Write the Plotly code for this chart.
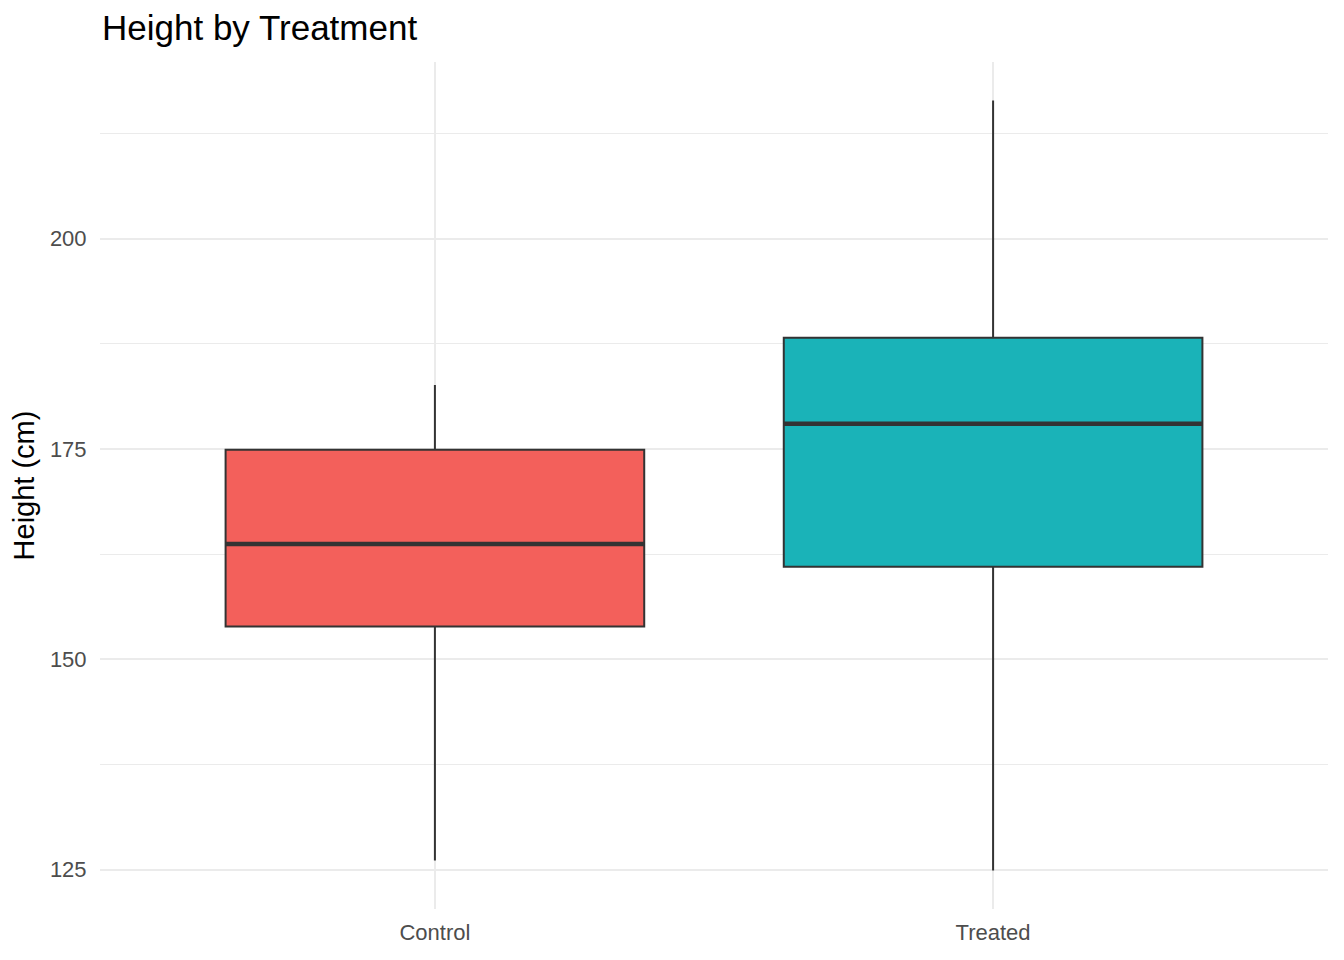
import plotly.graph_objects as go

categories = ["Control", "Treated"]
lower_whisker = [126.1, 124.9]
q1 = [153.9, 161.0]
median = [163.7, 178.0]
q3 = [174.9, 188.2]
upper_whisker = [182.6, 216.4]
fills = ["#F3605B", "#1AB3B8"]

ytick_vals = [125, 150, 175, 200]
yminor_vals = [137.5, 162.5, 187.5, 212.5]

box_w = 0.75
fig = go.Figure()
for i, cat in enumerate(categories):
    xpos = i + 1
    fig.add_trace(go.Box(
        x=[xpos], q1=[q1[i]], median=[median[i]], q3=[q3[i]],
        lowerfence=[lower_whisker[i]], upperfence=[upper_whisker[i]],
        width=box_w, whiskerwidth=0, fillcolor=fills[i],
        line=dict(color="#333333", width=2), name=cat,
        showlegend=False, hoverinfo="skip", boxpoints=False,
    ))
    fig.add_trace(go.Scatter(
        x=[xpos - box_w / 2, xpos + box_w / 2], y=[median[i], median[i]],
        mode="lines", line=dict(color="#333333", width=4.5),
        showlegend=False, hoverinfo="skip",
    ))

span = max(upper_whisker) - min(lower_whisker)
ylo = min(lower_whisker) - 0.05 * span
yhi = max(upper_whisker) + 0.05 * span

fig.update_layout(
    width=1344, height=960,
    margin=dict(l=92, r=24, t=54, b=59),
    paper_bgcolor="white", plot_bgcolor="white",
    font=dict(family="Liberation Sans, Arial, sans-serif"),
    title=dict(text="Height by Treatment", x=94 / 1344, xanchor="left",
               xref="container", y=1 - 20 / 960, yref="container", yanchor="middle",
               font=dict(size=35, color="black")),
    xaxis=dict(range=[0.4, 2.6], tickvals=[1, 2], ticktext=categories,
               showgrid=True, gridcolor="#EBEBEB", gridwidth=2, zeroline=False,
               ticks="outside", ticklen=4, tickcolor="rgba(0,0,0,0)",
               tickfont=dict(size=22, color="#4D4D4D"), showline=False),
    yaxis=dict(range=[ylo, yhi], tickvals=ytick_vals,
               showgrid=True, gridcolor="#EBEBEB", gridwidth=2, zeroline=False,
               ticks="outside", ticklen=8, tickcolor="rgba(0,0,0,0)",
               tickfont=dict(size=22, color="#4D4D4D"), showline=False,
               minor=dict(tickvals=yminor_vals, showgrid=True, gridcolor="#EBEBEB",
                          gridwidth=1, ticks=""),
               title=dict(text="Height (cm)", font=dict(size=29, color="black"), standoff=8)),
)

fig.write_html("out.html")
